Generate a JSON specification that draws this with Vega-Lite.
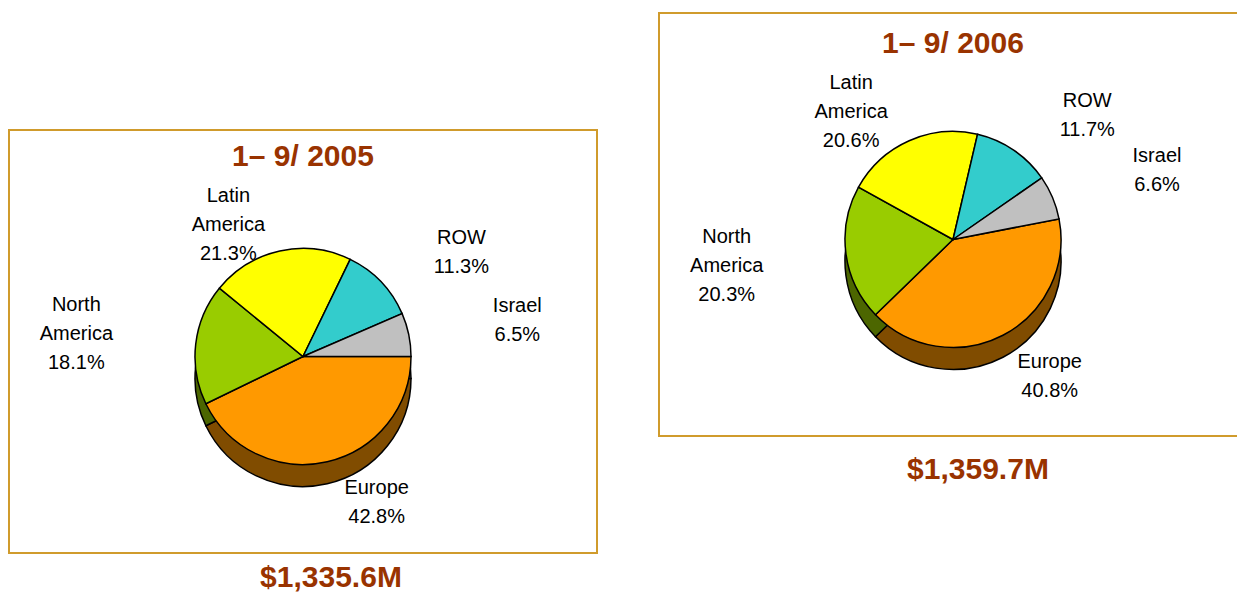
{
  "$schema": "https://vega.github.io/schema/vega-lite/v6.json",
  "padding": {"left": 8, "top": 12, "right": 0, "bottom": 0},
  "background": "white",
  "spacing": 60,
  "config": {
    "font": "Liberation Sans",
    "view": {"stroke": "#D09B2C", "strokeWidth": 2},
    "title": {"font": "Liberation Sans", "fontSize": 30, "fontWeight": "bold", "color": "#993300", "anchor": "middle"},
    "text": {"fontSize": 20, "lineBreak": "\n", "lineHeight": 29, "color": "black"}
  },
  "datasets": {
    "y2005": [
      {"region": "Europe", "label": "Europe\n42.8%", "pct": 42.8, "order": 1},
      {"region": "North America", "label": "North\nAmerica\n18.1%", "pct": 18.1, "order": 2},
      {"region": "Latin America", "label": "Latin\nAmerica\n21.3%", "pct": 21.3, "order": 3},
      {"region": "ROW", "label": "ROW\n11.3%", "pct": 11.3, "order": 4},
      {"region": "Israel", "label": "Israel\n6.5%", "pct": 6.5, "order": 5}
    ],
    "y2006": [
      {"region": "Europe", "label": "Europe\n40.8%", "pct": 40.8, "order": 1},
      {"region": "North America", "label": "North\nAmerica\n20.3%", "pct": 20.3, "order": 2},
      {"region": "Latin America", "label": "Latin\nAmerica\n20.6%", "pct": 20.6, "order": 3},
      {"region": "ROW", "label": "ROW\n11.7%", "pct": 11.7, "order": 4},
      {"region": "Israel", "label": "Israel\n6.6%", "pct": 6.6, "order": 5}
    ]
  },
  "hconcat": [
    {
      "spacing": 20,
      "title": {"text": "$1,335.6M", "orient": "bottom", "offset": 9, "dx": 28},
      "vconcat": [
        {
          "width": 588, "height": 96,
          "view": {"stroke": null},
          "data": {"values": []},
          "mark": "point"
        },
        {
          "width": 588, "height": 423,
          "view": {"stroke": "#D09B2C", "strokeWidth": 2},
          "title": {"text": "1– 9/ 2005", "offset": -42},
          "data": {"name": "y2005"},
          "encoding": {
            "theta": {"field": "pct", "type": "quantitative", "stack": true, "scale": {"range": [1.5708, 7.8540]}},
            "order": {"field": "order", "type": "quantitative"}
          },
          "layer": [
            {
              "mark": {"type": "arc", "outerRadius": 108, "yOffset": 37, "stroke": "black", "strokeWidth": 1.5},
              "encoding": {"fill": {"field": "region", "type": "nominal", "legend": null,
                "scale": {"domain": ["Europe", "North America", "Latin America", "ROW", "Israel"], "range": ["#804C00", "#4C6600", "#808000", "#1A6666", "#606060"]}}}
            },
            {
              "mark": {"type": "arc", "outerRadius": 108, "yOffset": 15, "stroke": "black", "strokeWidth": 1.5},
              "encoding": {"color": {"field": "region", "type": "nominal", "legend": null,
                "scale": {"domain": ["Europe", "North America", "Latin America", "ROW", "Israel"], "range": ["#FF9900", "#99CC00", "#FFFF00", "#33CCCC", "#C0C0C0"]}}}
            },
            {
              "mark": {"type": "text", "clip": true, "yOffset": 15, "radius": 138, "dx": -45, "dy": -26},
              "encoding": {"text": {"field": "label"}, "opacity": {"condition": {"test": "datum.region == 'Latin America'", "value": 1}, "value": 0}}
            },
            {
              "mark": {"type": "text", "clip": true, "yOffset": 15, "radius": 150, "dx": 40, "dy": -14.5},
              "encoding": {"text": {"field": "label"}, "opacity": {"condition": {"test": "datum.region == 'Europe'", "value": 1}, "value": 0}}
            },
            {
              "mark": {"type": "text", "clip": true, "yOffset": 15, "radius": 198, "dx": -30, "dy": -29},
              "encoding": {"text": {"field": "label"}, "opacity": {"condition": {"test": "datum.region == 'North America'", "value": 1}, "value": 0}}
            },
            {
              "mark": {"type": "text", "clip": true, "yOffset": 15, "radius": 150, "dx": 50, "dy": -14.5},
              "encoding": {"text": {"field": "label"}, "opacity": {"condition": {"test": "datum.region == 'ROW'", "value": 1}, "value": 0}}
            },
            {
              "mark": {"type": "text", "clip": true, "yOffset": 15, "radius": 178, "dx": 40, "dy": -14.5},
              "encoding": {"text": {"field": "label"}, "opacity": {"condition": {"test": "datum.region == 'Israel'", "value": 1}, "value": 0}}
            }
          ]
        }
      ]
    },
    {
      "title": {"text": "$1,359.7M", "orient": "bottom", "offset": 18, "dx": 25},
      "vconcat": [
        {
          "width": 588, "height": 423,
          "view": {"stroke": "#D09B2C", "strokeWidth": 2},
          "title": {"text": "1– 9/ 2006", "offset": -46},
          "data": {"name": "y2006"},
          "encoding": {
            "theta": {"field": "pct", "type": "quantitative", "stack": true, "scale": {"range": [1.3788, 7.6620]}},
            "order": {"field": "order", "type": "quantitative"}
          },
          "layer": [
            {
              "mark": {"type": "arc", "outerRadius": 108, "yOffset": 37, "stroke": "black", "strokeWidth": 1.5},
              "encoding": {"fill": {"field": "region", "type": "nominal", "legend": null,
                "scale": {"domain": ["Europe", "North America", "Latin America", "ROW", "Israel"], "range": ["#804C00", "#4C6600", "#808000", "#1A6666", "#606060"]}}}
            },
            {
              "mark": {"type": "arc", "outerRadius": 108, "yOffset": 15, "stroke": "black", "strokeWidth": 1.5},
              "encoding": {"color": {"field": "region", "type": "nominal", "legend": null,
                "scale": {"domain": ["Europe", "North America", "Latin America", "ROW", "Israel"], "range": ["#FF9900", "#99CC00", "#FFFF00", "#33CCCC", "#C0C0C0"]}}}
            },
            {
              "mark": {"type": "text", "clip": true, "yOffset": 15, "radius": 140, "dx": -45, "dy": -29},
              "encoding": {"text": {"field": "label"}, "opacity": {"condition": {"test": "datum.region == 'Latin America'", "value": 1}, "value": 0}}
            },
            {
              "mark": {"type": "text", "clip": true, "yOffset": 15, "radius": 155, "dx": 25, "dy": -14.5},
              "encoding": {"text": {"field": "label"}, "opacity": {"condition": {"test": "datum.region == 'Europe'", "value": 1}, "value": 0}}
            },
            {
              "mark": {"type": "text", "clip": true, "yOffset": 15, "radius": 198, "dx": -30, "dy": -29},
              "encoding": {"text": {"field": "label"}, "opacity": {"condition": {"test": "datum.region == 'North America'", "value": 1}, "value": 0}}
            },
            {
              "mark": {"type": "text", "clip": true, "yOffset": 15, "radius": 150, "dx": 50, "dy": -14.5},
              "encoding": {"text": {"field": "label"}, "opacity": {"condition": {"test": "datum.region == 'ROW'", "value": 1}, "value": 0}}
            },
            {
              "mark": {"type": "text", "clip": true, "yOffset": 15, "radius": 178, "dx": 40, "dy": -14.5},
              "encoding": {"text": {"field": "label"}, "opacity": {"condition": {"test": "datum.region == 'Israel'", "value": 1}, "value": 0}}
            }
          ]
        }
      ]
    }
  ]
}
